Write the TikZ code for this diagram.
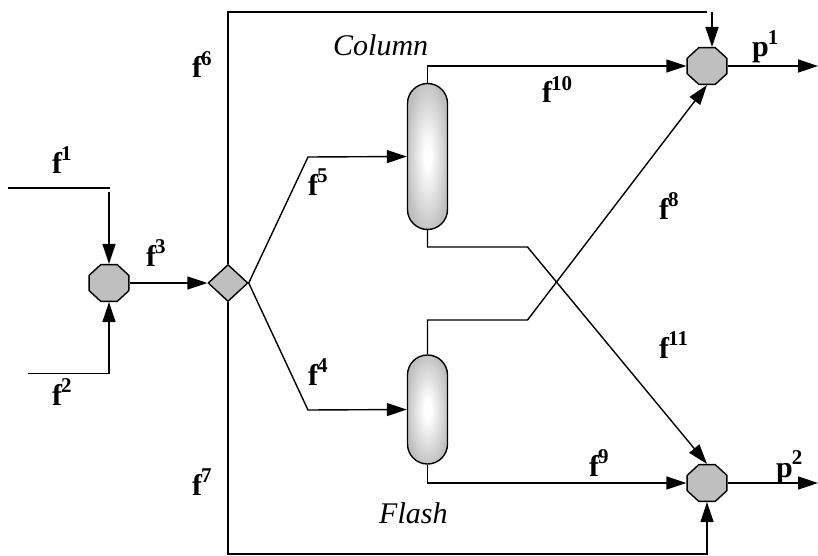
\documentclass[tikz,border=0pt]{standalone}
\usepackage{fontspec}
\setmainfont{Liberation Serif}
\usetikzlibrary{arrows.meta,shapes.geometric}
\pgfdeclareradialshading{vesselshade}{\pgfpoint{0bp}{0bp}}{color(0bp)=(white); color(4bp)=(white); color(27bp)=(black!25); color(50bp)=(black!25)}
\newcommand{\stream}[2]{\textbf{#1\kern-1pt\raisebox{.42em}{\fontsize{21}{21}\selectfont #2}}}
\tikzset{
  flow/.style={line width=1.4pt},
  feed/.style={flow,-{Triangle[length=20pt,width=13pt]}},
  mixer/.style={regular polygon,regular polygon sides=8,draw,line width=1.4pt,fill=black!25,minimum size=41pt,inner sep=0pt,transform shape,xscale=1.05,yscale=0.97},
  splitter/.style={diamond,draw,line width=1.4pt,fill=black!25,minimum width=40pt,minimum height=37pt,inner sep=0pt},
  vessel/.style={rectangle,draw,line width=1.4pt,rounded corners=20pt,shading=vesselshade,minimum width=40pt,inner sep=0pt},
  lab/.style={anchor=base west,inner sep=0pt,font=\fontsize{30}{30}\selectfont},
}
\begin{document}
\begin{tikzpicture}[x=1pt,y=-1pt]
\useasboundingbox (0,0) rectangle (818,556);
% units
\node[mixer] (mixA) at (109,283) {};
\node[mixer] (mixB) at (707,66) {};
\node[mixer] (mixC) at (707,483) {};
\node[splitter] (split) at (228,283) {};
\node[vessel,minimum height=146pt] (column) at (427.5,156.5) {};
\node[vessel,minimum height=109pt] (flash) at (427.5,409.5) {};
% free ends
\coordinate (inA) at (8,188);
\coordinate (inAb) at (110,188);
\coordinate (inAc) at (109,192);
\coordinate (inB) at (28,373.5);
\coordinate (topA) at (228,12);
\coordinate (topB) at (707,12);
\coordinate (topC) at (712,12);
\coordinate (topD) at (712,47);
\coordinate (lowA) at (228,554);
\coordinate (outB) at (818,66);
\coordinate (outC) at (818,483);
\coordinate (kneeA) at (308,157);
\coordinate (kneeB) at (308,410);
\coordinate (kneeC) at (527.5,247);
\coordinate (kneeD) at (527.5,320);
% streams
\draw[flow] (inA) -- (inAb);
\draw[feed] (inAc) -- (mixA.north);
\draw[feed] (inB) -| (mixA.south);
\draw[feed] (mixA.east) -- (split.west);
\draw[flow] (split.north) -- (topA) -- (topB);
\draw[feed] (topC) -- (topD);
\draw[feed] (split.south) |- (lowA) -| (mixC.south);
\draw[feed] (split.east) -- (kneeA) -- (column.west);
\draw[feed] (split.east) -- (kneeB) -- (flash.west);
\draw[feed] (column.north) |- (mixB.west);
\draw[feed] (column.south) |- (kneeC) -- (mixC.north);
\draw[feed] (flash.north) |- (kneeD) -- (mixB.south);
\draw[feed] (flash.south) |- (mixC.west);
\draw[feed] (mixB.east) -- (outB);
\draw[feed] (mixC.east) -- (outC);
% labels
\node[lab] (lf1) at (52,173) {\stream{f}{1}};
\node[lab] (lf2) at (52,405) {\stream{f}{2}};
\node[lab] (lf3) at (146,266) {\stream{f}{3}};
\node[lab] (lf4) at (308,385) {\stream{f}{4}};
\node[lab] (lf5) at (308,195) {\stream{f}{5}};
\node[lab] (lf6) at (192,78) {\stream{f}{6}};
\node[lab] (lf7) at (192,495) {\stream{f}{7}};
\node[lab] (lf8) at (659,219) {\stream{f}{8}};
\node[lab] (lf9) at (589,476) {\stream{f}{9}};
\node[lab] (lf10) at (542,103) {\stream{f}{10}};
\node[lab] (lf11) at (659,358) {\stream{f}{11}};
\node[lab] (lp1) at (752,57) {\stream{p}{1}};
\node[lab] (lp2) at (776,477) {\stream{p}{2}};
\node[lab] (lcol) at (333,56) {\textit{Column}};
\node[lab] (lfla) at (379,523) {\textit{Flash}};
\end{tikzpicture}
\end{document}
